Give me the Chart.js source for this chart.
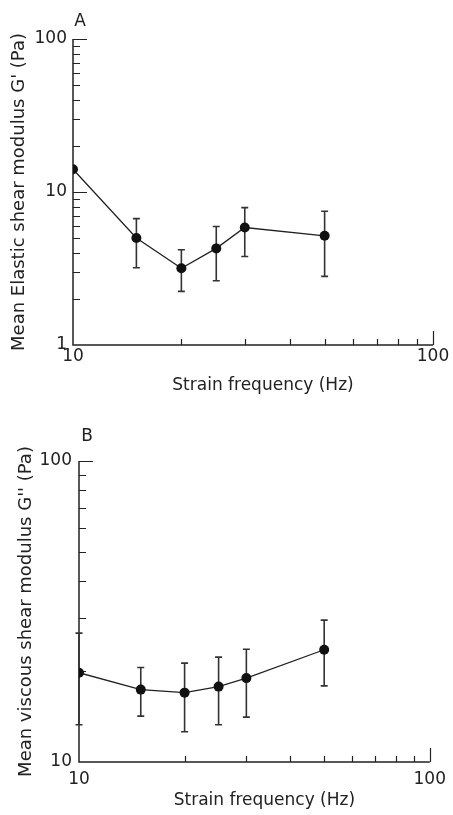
<!DOCTYPE html>
<html>
<head>
<meta charset="utf-8">
<script src="https://cdn.jsdelivr.net/npm/chart.js@4"></script>
<style>
  html, body { margin: 0; padding: 0; background: #fff; }
  .panel { position: relative; width: 453px; }
  #panelA { height: 400px; }
  #panelB { height: 415px; }
</style>
</head>
<body>
<div class="panel" id="panelA"><canvas id="chartA"></canvas></div>
<div class="panel" id="panelB"><canvas id="chartB"></canvas></div>
<script>
// Data
const freq = [10, 15, 20, 25, 30, 50];

const elastic = [14.1, 5.0, 3.17, 4.28, 5.86, 5.17];
const elasticHi = [null, 6.7, 4.19, 5.95, 7.9, 7.48];
const elasticLo = [null, 3.2, 2.24, 2.63, 3.79, 2.81];

const viscous = [19.8, 17.4, 17.0, 17.8, 19.0, 23.6];
const viscousHi = [26.8, 20.6, 21.3, 22.3, 23.7, 29.6];
const viscousLo = [13.3, 14.2, 12.6, 13.3, 14.1, 17.9];

// Axis ticks
const xMajor = [10, 100];
const xMinor = [20, 30, 40, 50, 60, 70, 80, 90];
const yMajorA = [1, 10, 100];
const yMinorA = [2, 3, 4, 5, 6, 7, 8, 9, 20, 30, 40, 50, 60, 70, 80, 90];
const yMajorB = [10, 100];
const yMinorB = [20, 30, 40, 50, 60, 70, 80, 90];

const xTitle = 'Strain frequency (Hz)';
const ink = '#222';
const fontFamily = '"DejaVu Sans", sans-serif';

// Axis lines, inward ticks, error bars, x title and the panel letter
const figurePlugin = {
    id: 'figure',
    beforeDatasetsDraw(chart, args, opts) {
        const ctx = chart.ctx;
        const { left, right, top, bottom } = chart.chartArea;
        const xs = chart.scales.x;
        const ys = chart.scales.y;
        ctx.save();
        ctx.strokeStyle = ink;
        ctx.lineWidth = 1.5;
        ctx.beginPath();
        ctx.moveTo(left, top);
        ctx.lineTo(left, bottom);
        ctx.lineTo(right, bottom);
        ctx.stroke();

        ctx.lineWidth = 1.2;
        ctx.beginPath();
        opts.yMajor.forEach(v => {
            if (v === ys.min) return;
            const y = Math.round(ys.getPixelForValue(v)) + 0.5;
            ctx.moveTo(left, y); ctx.lineTo(left + 14, y);
        });
        opts.yMinor.forEach(v => {
            const y = Math.round(ys.getPixelForValue(v)) + 0.5;
            ctx.moveTo(left, y); ctx.lineTo(left + 7, y);
        });
        xMajor.forEach(v => {
            if (v === xs.min) return;
            const x = Math.round(xs.getPixelForValue(v)) + 0.5;
            ctx.moveTo(x, bottom); ctx.lineTo(x, bottom - 14);
        });
        xMinor.forEach(v => {
            const x = Math.round(xs.getPixelForValue(v)) + 0.5;
            ctx.moveTo(x, bottom); ctx.lineTo(x, bottom - 6);
        });
        ctx.stroke();

        // error bars
        ctx.lineWidth = 1.6;
        ctx.strokeStyle = '#333';
        ctx.beginPath();
        freq.forEach((f, i) => {
            const hi = opts.hi[i];
            const lo = opts.lo[i];
            if (hi == null || lo == null) return;
            const x = xs.getPixelForValue(f);
            const yh = ys.getPixelForValue(hi);
            const yl = ys.getPixelForValue(lo);
            ctx.moveTo(x, yh); ctx.lineTo(x, yl);
            ctx.moveTo(x - 3.5, yh); ctx.lineTo(x + 3.5, yh);
            ctx.moveTo(x - 3.5, yl); ctx.lineTo(x + 3.5, yl);
        });
        ctx.stroke();

        ctx.fillStyle = ink;
        ctx.font = '17px ' + fontFamily;
        ctx.textAlign = 'center';
        ctx.textBaseline = 'middle';
        ctx.fillText(opts.letter, left + opts.letterDx, opts.letterY);
        // x title sits a little right of the plot centre in the original
        ctx.fillText(xTitle, (left + right) / 2 + 10, xs.bottom - 14);
        ctx.restore();
    }
};

function makePanel(canvasId, cfg) {
    return new Chart(document.getElementById(canvasId), {
        type: 'line',
        data: {
            datasets: [{
                data: freq.map((f, i) => ({ x: f, y: cfg.values[i] })),
                borderColor: ink,
                borderWidth: 1.3,
                pointRadius: 5,
                pointBackgroundColor: '#111',
                pointBorderWidth: 0,
                tension: 0
            }]
        },
        options: {
            responsive: true,
            maintainAspectRatio: false,
            animation: false,
            devicePixelRatio: 1,
            layout: { padding: { top: cfg.padTop, right: cfg.padRight, left: 0, bottom: 0 } },
            plugins: {
                legend: { display: false },
                tooltip: { enabled: false },
                figure: {
                    yMajor: cfg.yMajor,
                    yMinor: cfg.yMinor,
                    hi: cfg.hi,
                    lo: cfg.lo,
                    letter: cfg.letter,
                    letterDx: cfg.letterDx,
                    letterY: cfg.letterY
                }
            },
            scales: {
                x: {
                    type: 'logarithmic',
                    min: 10,
                    max: 100,
                    grid: { display: false, drawTicks: false },
                    border: { display: false },
                    afterBuildTicks: s => { s.ticks = xMajor.map(v => ({ value: v })); },
                    afterFit: s => { s.height = cfg.xHeight; },
                    ticks: {
                        autoSkip: false,
                        maxRotation: 0,
                        padding: cfg.xTickPad,
                        color: ink,
                        font: { family: fontFamily, size: 17 },
                        callback: v => String(v)
                    },
                    title: { display: false }
                },
                y: {
                    type: 'logarithmic',
                    min: cfg.yMin,
                    max: 100,
                    grid: { display: false, drawTicks: false },
                    border: { display: false },
                    afterBuildTicks: s => { s.ticks = cfg.yMajor.map(v => ({ value: v })); },
                    afterFit: s => { s.width = cfg.yWidth; },
                    ticks: {
                        autoSkip: false,
                        padding: cfg.yTickPad,
                        color: ink,
                        font: { family: fontFamily, size: 17 },
                        callback: v => String(v)
                    },
                    title: {
                        display: true,
                        text: cfg.yTitle,
                        color: ink,
                        font: { family: fontFamily, size: 18 },
                        padding: cfg.yTitlePad
                    }
                }
            }
        },
        plugins: [figurePlugin]
    });
}

makePanel('chartA', {
    values: elastic, hi: elasticHi, lo: elasticLo,
    yMin: 1, yMajor: yMajorA, yMinor: yMinorA,
    yTitle: "Mean Elastic shear modulus G' (Pa)",
    padTop: 39, padRight: 20, xHeight: 55, yWidth: 73,
    xTickPad: 1, yTickPad: 6, yTitlePad: 9,
    letter: 'A', letterDx: 7, letterY: 22
});

makePanel('chartB', {
    values: viscous, hi: viscousHi, lo: viscousLo,
    yMin: 10, yMajor: yMajorB, yMinor: yMinorB,
    yTitle: "Mean viscous shear modulus G'' (Pa)",
    padTop: 61, padRight: 18, xHeight: 53, yWidth: 79,
    xTickPad: 7, yTickPad: 7, yTitlePad: 16,
    letter: 'B', letterDx: 8, letterY: 37
});
</script>
</body>
</html>
